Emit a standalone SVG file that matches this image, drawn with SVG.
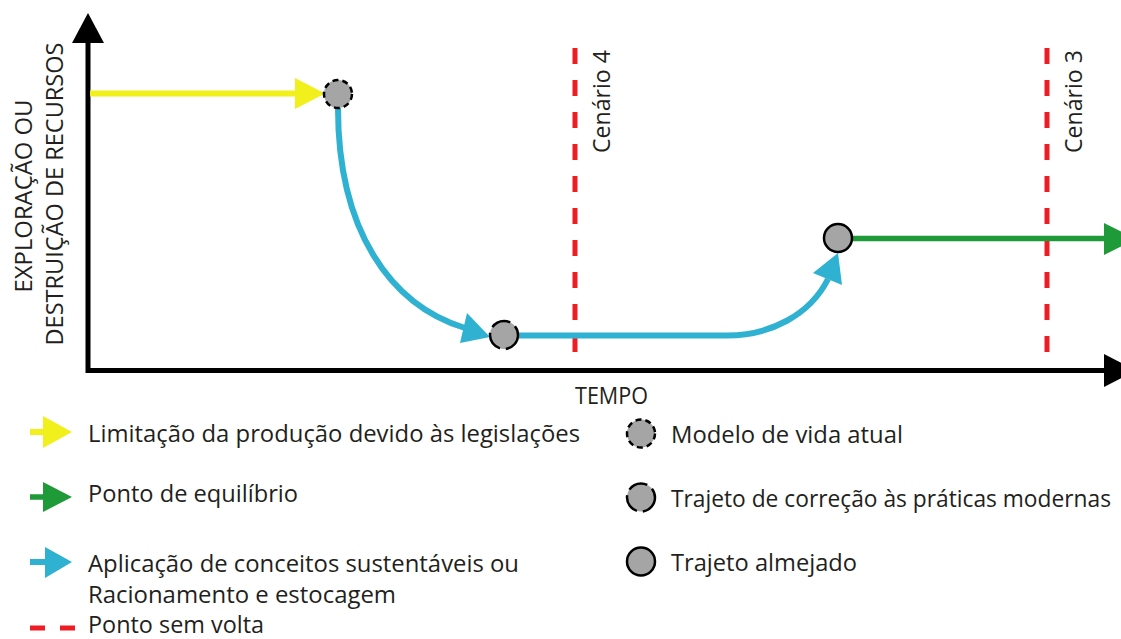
<svg xmlns="http://www.w3.org/2000/svg" width="1121" height="639" viewBox="0 0 1121 639">
<style>
text{font-family:"Open Sans","Noto Sans","Liberation Sans",sans-serif;fill:#231f20;font-size:24px}
.axis{stroke:#000;stroke-width:5;fill:none}
.head-k{fill:#000}
.yel{stroke:#f2f01c;stroke-width:6;fill:none}
.yelh{fill:#f2f01c}
.grn{stroke:#1f9a38;stroke-width:5.5;fill:none}
.grnh{fill:#1f9a38}
.blu{stroke:#2fb1d2;stroke-width:6;fill:none}
.bluh{fill:#2fb1d2}
.red{stroke:#ee1c24;stroke-width:5;fill:none;stroke-dasharray:16 16}
.node{fill:#a5a5a5;stroke:#000;stroke-width:2.5}
.d-short{stroke-dasharray:6 4}
.d-long{stroke-dasharray:20 6}
</style>

<g id="axes">
  <line class="axis" x1="88" y1="40" x2="88" y2="373"/>
  <polygon class="head-k" points="72,43 88,13 104,43"/>
  <line class="axis" x1="86" y1="370.5" x2="1106" y2="370.5"/>
  <polygon class="head-k" points="1104,354 1136,370.5 1104,387"/>
  <text transform="translate(32,196) rotate(-90)" text-anchor="middle" font-size="25" textLength="193" lengthAdjust="spacingAndGlyphs">EXPLORAÇÃO OU</text>
  <text transform="translate(63,194) rotate(-90)" text-anchor="middle" font-size="25" textLength="303" lengthAdjust="spacingAndGlyphs">DESTRUIÇÃO DE RECURSOS</text>
  <text x="575" y="404" textLength="73" lengthAdjust="spacingAndGlyphs">TEMPO</text>
</g>

<g id="scenario4">
  <line class="red" x1="575" y1="352" x2="575" y2="47"/>
  <text transform="translate(610,50) rotate(-90)" text-anchor="end" textLength="103" lengthAdjust="spacingAndGlyphs">Cenário 4</text>
</g>
<g id="scenario3">
  <line class="red" x1="1047" y1="352" x2="1047" y2="47"/>
  <text transform="translate(1082,50) rotate(-90)" text-anchor="end" textLength="103" lengthAdjust="spacingAndGlyphs">Cenário 3</text>
</g>

<g id="connectors">
  <line class="yel" x1="90" y1="93.5" x2="300" y2="93.5"/>
  <polygon class="yelh" points="295,78 325,93.5 295,109"/>
  <path class="blu" d="M338,108 C338,230 390,305 465,328"/>
  <polygon class="bluh" points="460,343 490,337 467,313"/>
  <path class="blu" d="M519,335.5 L727,335.5 C770,335.5 810,315 828,279"/>
  <polygon class="bluh" points="813,273 838,253 842,285"/>
  <line class="grn" x1="853" y1="238.5" x2="1106" y2="238.5"/>
  <polygon class="grnh" points="1104,223 1136,239 1104,255"/>
</g>

<g id="node-atual">
  <circle class="node d-short" cx="338" cy="94" r="14"/>
</g>
<g id="node-correcao">
  <circle class="node d-long" cx="504" cy="335" r="14"/>
</g>
<g id="node-almejado">
  <circle class="node" cx="838" cy="238" r="14"/>
</g>

<g id="legend-yellow">
  <line class="yel" x1="30" y1="432" x2="48" y2="432"/>
  <polygon class="yelh" points="43,416 72,432 43,448"/>
  <text x="88" y="442" textLength="492" lengthAdjust="spacingAndGlyphs">Limitação da produção devido às legislações</text>
</g>
<g id="legend-green">
  <line class="grn" x1="30" y1="497" x2="48" y2="497"/>
  <polygon class="grnh" points="43,482 72,497 43,512"/>
  <text x="88" y="502" textLength="210" lengthAdjust="spacingAndGlyphs">Ponto de equilíbrio</text>
</g>
<g id="legend-blue">
  <line class="blu" x1="30" y1="562" x2="50" y2="562"/>
  <polygon class="bluh" points="45,547 72,562 45,578"/>
  <text x="88" y="572" textLength="431" lengthAdjust="spacingAndGlyphs">Aplicação de conceitos sustentáveis ou</text>
  <text x="88" y="603" textLength="308" lengthAdjust="spacingAndGlyphs">Racionamento e estocagem</text>
</g>
<g id="legend-red">
  <line class="red" x1="30" y1="628" x2="75" y2="628" style="stroke-dasharray:15 15"/>
  <text x="88" y="633" font-size="23" textLength="176" lengthAdjust="spacingAndGlyphs">Ponto sem volta</text>
</g>
<g id="legend-atual">
  <circle class="node d-short" cx="641" cy="433.5" r="14"/>
  <text x="671" y="443" textLength="232" lengthAdjust="spacingAndGlyphs">Modelo de vida atual</text>
</g>
<g id="legend-correcao">
  <circle class="node d-long" cx="641" cy="497.5" r="14"/>
  <text x="671" y="507" font-size="22" textLength="440" lengthAdjust="spacingAndGlyphs">Trajeto de correção às práticas modernas</text>
</g>
<g id="legend-almejado">
  <circle class="node" cx="641" cy="561.5" r="14"/>
  <text x="671" y="571" textLength="186" lengthAdjust="spacingAndGlyphs">Trajeto almejado</text>
</g>
</svg>
